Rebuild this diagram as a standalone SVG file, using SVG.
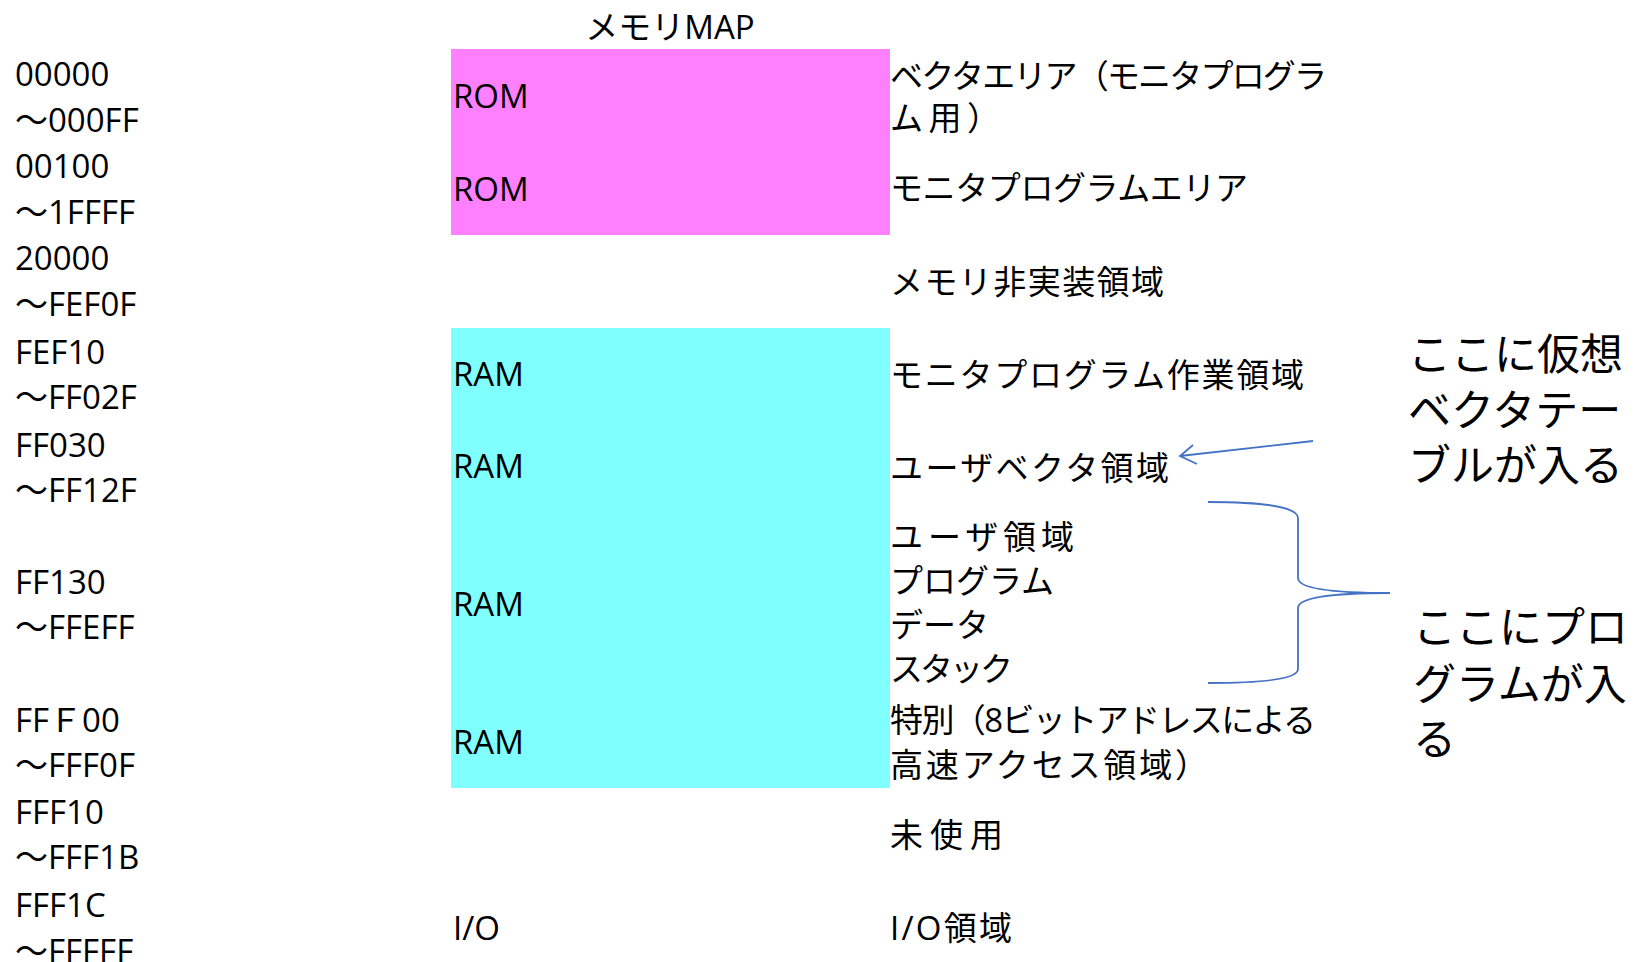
<svg xmlns="http://www.w3.org/2000/svg" width="1643" height="962" viewBox="0 0 1643 962">
<style>
text{font-family:"Open Sans","Noto Sans CJK JP",sans-serif;font-size:33px;fill:#000}
.note{font-size:43px}
.rom{fill:#FF80FF}
.ram{fill:#80FFFF}
.conn{fill:none;stroke:#4472C4;stroke-width:1.8}
</style>
<rect width="1643" height="962" fill="#fff"/>
<g id="title"><text x="670" y="39" text-anchor="middle">メモリMAP</text></g>
<g id="addresses">
<text x="15" y="86">00000</text>
<text x="15" y="132">〜000FF</text>
<text x="15" y="178">00100</text>
<text x="15" y="224">〜1FFFF</text>
<text x="15" y="270">20000</text>
<text x="15" y="316">〜FEF0F</text>
<text x="15" y="364">FEF10</text>
<text x="15" y="409">〜FF02F</text>
<text x="15" y="457">FF030</text>
<text x="15" y="502">〜FF12F</text>
<text x="15" y="594">FF130</text>
<text x="15" y="639">〜FFEFF</text>
<text x="15" y="732">FFＦ00</text>
<text x="15" y="777">〜FFF0F</text>
<text x="15" y="824">FFF10</text>
<text x="15" y="869">〜FFF1B</text>
<text x="15" y="917">FFF1C</text>
<text x="15" y="963">〜FFFFF</text>
</g>
<g id="rom-block"><rect class="rom" x="451" y="49" width="439" height="186"/>
<text x="453" y="108">ROM</text><text x="453" y="201">ROM</text></g>
<g id="ram-block"><rect class="ram" x="451" y="328" width="439" height="460"/>
<text x="453" y="386">RAM</text><text x="453" y="478">RAM</text><text x="453" y="616">RAM</text><text x="453" y="754">RAM</text></g>
<g id="io-block"><text x="453" y="940">I/O</text></g>
<g id="descriptions">
<text x="890" y="88" textLength="437" lengthAdjust="spacing">ベクタエリア（モニタプログラ</text>
<text x="890" y="130" textLength="110" lengthAdjust="spacing">ム用）</text>
<text x="890" y="200" textLength="358" lengthAdjust="spacing">モニタプログラムエリア</text>
<text x="890" y="294" textLength="274" lengthAdjust="spacing">メモリ非実装領域</text>
<text x="890" y="387" textLength="414" lengthAdjust="spacing">モニタプログラム作業領域</text>
<text x="890" y="480" textLength="279" lengthAdjust="spacing">ユーザベクタ領域</text>
<text x="890" y="549" textLength="184" lengthAdjust="spacing">ユーザ領域</text>
<text x="890" y="593">プログラム</text>
<text x="890" y="637">データ</text>
<text x="890" y="681" textLength="123" lengthAdjust="spacing">スタック</text>
<text x="890" y="732" textLength="426" lengthAdjust="spacing">特別（8ビットアドレスによる</text>
<text x="890" y="777" textLength="318" lengthAdjust="spacing">高速アクセス領域）</text>
<text x="890" y="847" textLength="113" lengthAdjust="spacing">未使用</text>
<text x="890" y="940" textLength="122" lengthAdjust="spacing">I/O領域</text>
</g>
<g id="note-vector">
<text class="note" x="1408" y="370">ここに仮想</text>
<text class="note" x="1408" y="426">ベクタテー</text>
<text class="note" x="1408" y="481">ブルが入る</text>
</g>
<g id="note-program">
<text class="note" x="1413" y="643">ここにプロ</text>
<text class="note" x="1413" y="700">グラムが入</text>
<text class="note" x="1413" y="755">る</text>
</g>
<g id="connectors">
<path class="conn" d="M1313,441 L1180,456 M1193,445 L1180,456 L1197,464"/>
<path class="conn" d="M1208,502 C1262,502 1298,507 1298,518 L1298,578 C1298,588 1330,593 1390,593 C1330,593 1298,598 1298,608 L1298,669 C1298,679 1262,683 1208,683"/>
</g>
</svg>
